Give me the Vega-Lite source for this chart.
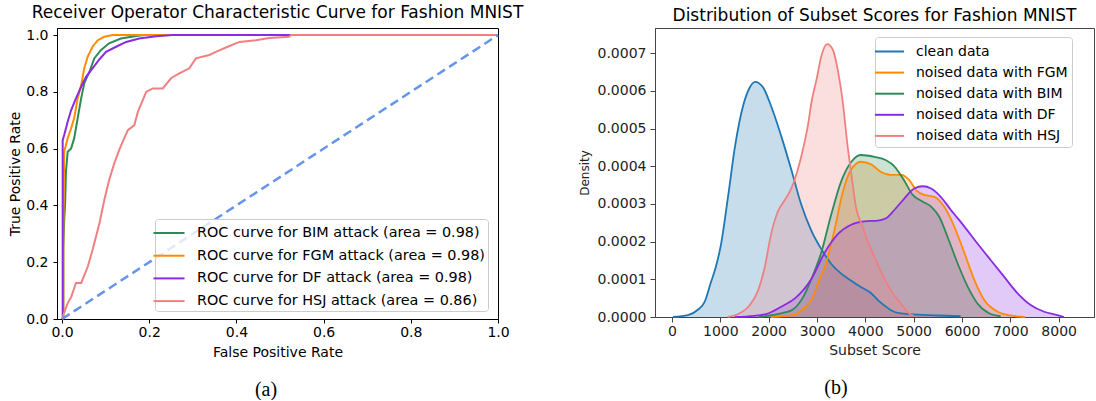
{
  "$schema": "https://vega.github.io/schema/vega-lite/v6.json",
  "background": "white",
  "padding": {"left": 8, "top": 3, "right": 0, "bottom": 0},
  "spacing": 53,
  "resolve": {"scale": {"color": "independent", "x": "independent", "y": "independent"}, "legend": {"color": "independent"}},
  "config": {
    "font": "DejaVu Sans",
    "axis": {"labelFont": "DejaVu Sans", "titleFont": "DejaVu Sans", "labelFontSize": 14, "titleFontSize": 14, "titleFontWeight": "normal", "grid": false, "tickSize": 4, "labelColor": "#000", "titleColor": "#000", "domainColor": "#000", "tickColor": "#000", "labelFlush": false},
    "title": {"font": "DejaVu Sans", "fontWeight": "normal", "color": "#000", "fontSize": 17},
    "legend": {"labelFont": "DejaVu Sans", "labelFontSize": 14, "labelColor": "#000", "labelLimit": 500},
    "view": {"stroke": "#000", "strokeWidth": 1}
  },
  "hconcat": [
    {
      "title": {"text": "(a)", "orient": "bottom", "font": "Liberation Serif", "fontSize": 20, "fontWeight": "normal", "frame": "bounds", "anchor": "middle", "offset": 20},
      "vconcat": [
        {
          "width": 441,
          "height": 291,
          "title": {"text": "Receiver Operator Characteristic Curve for Fashion MNIST", "fontSize": 17, "offset": 6, "anchor": "middle"},
          "layer": [
            {
              "data": {"values": [
                {"fpr": 0, "tpr": 0, "series": "ROC curve for BIM attack (area = 0.98)"},
                {"fpr": 0.003, "tpr": 0, "series": "ROC curve for BIM attack (area = 0.98)"},
                {"fpr": 0.003, "tpr": 0.25, "series": "ROC curve for BIM attack (area = 0.98)"},
                {"fpr": 0.005, "tpr": 0.35, "series": "ROC curve for BIM attack (area = 0.98)"},
                {"fpr": 0.007, "tpr": 0.401, "series": "ROC curve for BIM attack (area = 0.98)"},
                {"fpr": 0.009, "tpr": 0.519, "series": "ROC curve for BIM attack (area = 0.98)"},
                {"fpr": 0.013, "tpr": 0.589, "series": "ROC curve for BIM attack (area = 0.98)"},
                {"fpr": 0.021, "tpr": 0.601, "series": "ROC curve for BIM attack (area = 0.98)"},
                {"fpr": 0.028, "tpr": 0.637, "series": "ROC curve for BIM attack (area = 0.98)"},
                {"fpr": 0.036, "tpr": 0.708, "series": "ROC curve for BIM attack (area = 0.98)"},
                {"fpr": 0.044, "tpr": 0.778, "series": "ROC curve for BIM attack (area = 0.98)"},
                {"fpr": 0.051, "tpr": 0.83, "series": "ROC curve for BIM attack (area = 0.98)"},
                {"fpr": 0.063, "tpr": 0.871, "series": "ROC curve for BIM attack (area = 0.98)"},
                {"fpr": 0.074, "tpr": 0.918, "series": "ROC curve for BIM attack (area = 0.98)"},
                {"fpr": 0.089, "tpr": 0.947, "series": "ROC curve for BIM attack (area = 0.98)"},
                {"fpr": 0.108, "tpr": 0.971, "series": "ROC curve for BIM attack (area = 0.98)"},
                {"fpr": 0.135, "tpr": 0.988, "series": "ROC curve for BIM attack (area = 0.98)"},
                {"fpr": 0.174, "tpr": 0.998, "series": "ROC curve for BIM attack (area = 0.98)"},
                {"fpr": 0.19, "tpr": 1.0, "series": "ROC curve for BIM attack (area = 0.98)"},
                {"fpr": 1.0, "tpr": 1.0, "series": "ROC curve for BIM attack (area = 0.98)"},
                {"fpr": 0, "tpr": 0, "series": "ROC curve for FGM attack (area = 0.98)"},
                {"fpr": 0.003, "tpr": 0, "series": "ROC curve for FGM attack (area = 0.98)"},
                {"fpr": 0.003, "tpr": 0.3, "series": "ROC curve for FGM attack (area = 0.98)"},
                {"fpr": 0.005, "tpr": 0.589, "series": "ROC curve for FGM attack (area = 0.98)"},
                {"fpr": 0.013, "tpr": 0.637, "series": "ROC curve for FGM attack (area = 0.98)"},
                {"fpr": 0.021, "tpr": 0.672, "series": "ROC curve for FGM attack (area = 0.98)"},
                {"fpr": 0.028, "tpr": 0.708, "series": "ROC curve for FGM attack (area = 0.98)"},
                {"fpr": 0.036, "tpr": 0.778, "series": "ROC curve for FGM attack (area = 0.98)"},
                {"fpr": 0.044, "tpr": 0.824, "series": "ROC curve for FGM attack (area = 0.98)"},
                {"fpr": 0.051, "tpr": 0.883, "series": "ROC curve for FGM attack (area = 0.98)"},
                {"fpr": 0.059, "tpr": 0.924, "series": "ROC curve for FGM attack (area = 0.98)"},
                {"fpr": 0.07, "tpr": 0.959, "series": "ROC curve for FGM attack (area = 0.98)"},
                {"fpr": 0.082, "tpr": 0.982, "series": "ROC curve for FGM attack (area = 0.98)"},
                {"fpr": 0.097, "tpr": 0.994, "series": "ROC curve for FGM attack (area = 0.98)"},
                {"fpr": 0.116, "tpr": 1.0, "series": "ROC curve for FGM attack (area = 0.98)"},
                {"fpr": 1.0, "tpr": 1.0, "series": "ROC curve for FGM attack (area = 0.98)"},
                {"fpr": 0, "tpr": 0, "series": "ROC curve for DF attack (area = 0.98)"},
                {"fpr": 0.0015, "tpr": 0, "series": "ROC curve for DF attack (area = 0.98)"},
                {"fpr": 0.0015, "tpr": 0.63, "series": "ROC curve for DF attack (area = 0.98)"},
                {"fpr": 0.005, "tpr": 0.648, "series": "ROC curve for DF attack (area = 0.98)"},
                {"fpr": 0.013, "tpr": 0.695, "series": "ROC curve for DF attack (area = 0.98)"},
                {"fpr": 0.021, "tpr": 0.736, "series": "ROC curve for DF attack (area = 0.98)"},
                {"fpr": 0.032, "tpr": 0.777, "series": "ROC curve for DF attack (area = 0.98)"},
                {"fpr": 0.044, "tpr": 0.818, "series": "ROC curve for DF attack (area = 0.98)"},
                {"fpr": 0.055, "tpr": 0.853, "series": "ROC curve for DF attack (area = 0.98)"},
                {"fpr": 0.07, "tpr": 0.883, "series": "ROC curve for DF attack (area = 0.98)"},
                {"fpr": 0.086, "tpr": 0.915, "series": "ROC curve for DF attack (area = 0.98)"},
                {"fpr": 0.101, "tpr": 0.941, "series": "ROC curve for DF attack (area = 0.98)"},
                {"fpr": 0.124, "tpr": 0.959, "series": "ROC curve for DF attack (area = 0.98)"},
                {"fpr": 0.147, "tpr": 0.976, "series": "ROC curve for DF attack (area = 0.98)"},
                {"fpr": 0.177, "tpr": 0.988, "series": "ROC curve for DF attack (area = 0.98)"},
                {"fpr": 0.216, "tpr": 0.996, "series": "ROC curve for DF attack (area = 0.98)"},
                {"fpr": 0.254, "tpr": 1.0, "series": "ROC curve for DF attack (area = 0.98)"},
                {"fpr": 1.0, "tpr": 1.0, "series": "ROC curve for DF attack (area = 0.98)"},
                {"fpr": 0, "tpr": 0, "series": "ROC curve for HSJ attack (area = 0.86)"},
                {"fpr": 0.0016, "tpr": 0.008, "series": "ROC curve for HSJ attack (area = 0.86)"},
                {"fpr": 0.013, "tpr": 0.056, "series": "ROC curve for HSJ attack (area = 0.86)"},
                {"fpr": 0.021, "tpr": 0.077, "series": "ROC curve for HSJ attack (area = 0.86)"},
                {"fpr": 0.032, "tpr": 0.127, "series": "ROC curve for HSJ attack (area = 0.86)"},
                {"fpr": 0.044, "tpr": 0.127, "series": "ROC curve for HSJ attack (area = 0.86)"},
                {"fpr": 0.059, "tpr": 0.184, "series": "ROC curve for HSJ attack (area = 0.86)"},
                {"fpr": 0.07, "tpr": 0.243, "series": "ROC curve for HSJ attack (area = 0.86)"},
                {"fpr": 0.086, "tpr": 0.338, "series": "ROC curve for HSJ attack (area = 0.86)"},
                {"fpr": 0.097, "tpr": 0.419, "series": "ROC curve for HSJ attack (area = 0.86)"},
                {"fpr": 0.108, "tpr": 0.489, "series": "ROC curve for HSJ attack (area = 0.86)"},
                {"fpr": 0.12, "tpr": 0.549, "series": "ROC curve for HSJ attack (area = 0.86)"},
                {"fpr": 0.131, "tpr": 0.595, "series": "ROC curve for HSJ attack (area = 0.86)"},
                {"fpr": 0.139, "tpr": 0.624, "series": "ROC curve for HSJ attack (area = 0.86)"},
                {"fpr": 0.151, "tpr": 0.665, "series": "ROC curve for HSJ attack (area = 0.86)"},
                {"fpr": 0.166, "tpr": 0.683, "series": "ROC curve for HSJ attack (area = 0.86)"},
                {"fpr": 0.174, "tpr": 0.73, "series": "ROC curve for HSJ attack (area = 0.86)"},
                {"fpr": 0.193, "tpr": 0.8, "series": "ROC curve for HSJ attack (area = 0.86)"},
                {"fpr": 0.208, "tpr": 0.812, "series": "ROC curve for HSJ attack (area = 0.86)"},
                {"fpr": 0.231, "tpr": 0.812, "series": "ROC curve for HSJ attack (area = 0.86)"},
                {"fpr": 0.25, "tpr": 0.848, "series": "ROC curve for HSJ attack (area = 0.86)"},
                {"fpr": 0.269, "tpr": 0.865, "series": "ROC curve for HSJ attack (area = 0.86)"},
                {"fpr": 0.292, "tpr": 0.883, "series": "ROC curve for HSJ attack (area = 0.86)"},
                {"fpr": 0.307, "tpr": 0.918, "series": "ROC curve for HSJ attack (area = 0.86)"},
                {"fpr": 0.338, "tpr": 0.93, "series": "ROC curve for HSJ attack (area = 0.86)"},
                {"fpr": 0.353, "tpr": 0.941, "series": "ROC curve for HSJ attack (area = 0.86)"},
                {"fpr": 0.38, "tpr": 0.959, "series": "ROC curve for HSJ attack (area = 0.86)"},
                {"fpr": 0.407, "tpr": 0.976, "series": "ROC curve for HSJ attack (area = 0.86)"},
                {"fpr": 0.445, "tpr": 0.982, "series": "ROC curve for HSJ attack (area = 0.86)"},
                {"fpr": 0.475, "tpr": 0.99, "series": "ROC curve for HSJ attack (area = 0.86)"},
                {"fpr": 0.521, "tpr": 0.994, "series": "ROC curve for HSJ attack (area = 0.86)"},
                {"fpr": 0.525, "tpr": 1.0, "series": "ROC curve for HSJ attack (area = 0.86)"},
                {"fpr": 1.0, "tpr": 1.0, "series": "ROC curve for HSJ attack (area = 0.86)"}
              ]},
              "mark": {"type": "line", "strokeWidth": 2, "clip": true},
              "encoding": {
                "x": {"field": "fpr", "type": "quantitative", "scale": {"domain": [-0.0115, 1.0], "nice": false, "zero": false}, "axis": {"title": "False Positive Rate", "values": [0, 0.2, 0.4, 0.6, 0.8, 1.0], "format": ".1f", "labelPadding": 2, "titlePadding": 6}},
                "y": {"field": "tpr", "type": "quantitative", "scale": {"domain": [0, 1.025], "nice": false}, "axis": {"title": "True Positive Rate", "values": [0, 0.2, 0.4, 0.6, 0.8, 1.0], "format": ".1f", "labelPadding": 5, "titlePadding": 3}},
                "color": {"field": "series", "type": "nominal", "sort": null,
                  "scale": {"domain": ["ROC curve for BIM attack (area = 0.98)", "ROC curve for FGM attack (area = 0.98)", "ROC curve for DF attack (area = 0.98)", "ROC curve for HSJ attack (area = 0.86)"], "range": ["#2e8b57", "#ff8c00", "#8a2be2", "#f08080"]},
                  "legend": {"title": null, "orient": "none", "legendX": 98, "legendY": 191, "symbolType": "M-1.55,0H1.55", "symbolSize": 400, "symbolStrokeWidth": 2, "labelOffset": 17, "rowPadding": 4.7, "padding": 3, "strokeColor": "#cccccc", "fillColor": "rgba(255,255,255,0.8)", "cornerRadius": 3, "labelFontSize": 14.4}}
              }
            },
            {
              "data": {"values": [{"fpr": 0, "tpr": 0}, {"fpr": 1, "tpr": 1}]},
              "mark": {"type": "line", "color": "#6495ed", "strokeWidth": 2.5, "strokeDash": [9, 5]},
              "encoding": {
                "x": {"field": "fpr", "type": "quantitative"},
                "y": {"field": "tpr", "type": "quantitative"}
              }
            }
          ]
        }
      ]
    },
    {
      "title": {"text": "(b)", "orient": "bottom", "font": "Liberation Serif", "fontSize": 20, "fontWeight": "normal", "frame": "bounds", "anchor": "middle", "offset": 20},
      "vconcat": [
        {
          "width": 439,
          "height": 289,
          "view": {"stroke": "#444"},
          "title": {"text": "Distribution of Subset Scores for Fashion MNIST", "fontSize": 17, "offset": 3, "anchor": "middle"},
          "data": {"values": [
            {"score": 20, "density": 0, "series": "clean data"},
            {"score": 330, "density": 0.000005, "series": "clean data"},
            {"score": 540, "density": 0.00002, "series": "clean data"},
            {"score": 675, "density": 0.00004, "series": "clean data"},
            {"score": 800, "density": 0.00009, "series": "clean data"},
            {"score": 900, "density": 0.00013, "series": "clean data"},
            {"score": 1010, "density": 0.00019, "series": "clean data"},
            {"score": 1160, "density": 0.00032, "series": "clean data"},
            {"score": 1300, "density": 0.00045, "series": "clean data"},
            {"score": 1470, "density": 0.00056, "series": "clean data"},
            {"score": 1600, "density": 0.000607, "series": "clean data"},
            {"score": 1720, "density": 0.000624, "series": "clean data"},
            {"score": 1880, "density": 0.00061, "series": "clean data"},
            {"score": 2050, "density": 0.00056, "series": "clean data"},
            {"score": 2260, "density": 0.00048, "series": "clean data"},
            {"score": 2470, "density": 0.00039, "series": "clean data"},
            {"score": 2670, "density": 0.0003, "series": "clean data"},
            {"score": 2880, "density": 0.00023, "series": "clean data"},
            {"score": 3090, "density": 0.00018, "series": "clean data"},
            {"score": 3300, "density": 0.00014, "series": "clean data"},
            {"score": 3500, "density": 0.000115, "series": "clean data"},
            {"score": 3700, "density": 0.000097, "series": "clean data"},
            {"score": 3900, "density": 0.00008, "series": "clean data"},
            {"score": 4120, "density": 0.000063, "series": "clean data"},
            {"score": 4260, "density": 0.000045, "series": "clean data"},
            {"score": 4400, "density": 0.00003, "series": "clean data"},
            {"score": 4530, "density": 0.000018, "series": "clean data"},
            {"score": 4700, "density": 0.00001, "series": "clean data"},
            {"score": 5000, "density": 0.000007, "series": "clean data"},
            {"score": 5500, "density": 0.000004, "series": "clean data"},
            {"score": 5970, "density": 0.000002, "series": "clean data"},
            {"score": 2050, "density": 0, "series": "noised data with FGM"},
            {"score": 2500, "density": 0.000005, "series": "noised data with FGM"},
            {"score": 2700, "density": 0.00002, "series": "noised data with FGM"},
            {"score": 2900, "density": 0.00005, "series": "noised data with FGM"},
            {"score": 3050, "density": 0.0001, "series": "noised data with FGM"},
            {"score": 3155, "density": 0.00013, "series": "noised data with FGM"},
            {"score": 3360, "density": 0.00023, "series": "noised data with FGM"},
            {"score": 3530, "density": 0.00033, "series": "noised data with FGM"},
            {"score": 3700, "density": 0.00039, "series": "noised data with FGM"},
            {"score": 3910, "density": 0.000412, "series": "noised data with FGM"},
            {"score": 4120, "density": 0.000405, "series": "noised data with FGM"},
            {"score": 4325, "density": 0.000385, "series": "noised data with FGM"},
            {"score": 4530, "density": 0.000377, "series": "noised data with FGM"},
            {"score": 4740, "density": 0.000377, "series": "noised data with FGM"},
            {"score": 4910, "density": 0.000363, "series": "noised data with FGM"},
            {"score": 5050, "density": 0.000337, "series": "noised data with FGM"},
            {"score": 5220, "density": 0.000324, "series": "noised data with FGM"},
            {"score": 5430, "density": 0.000319, "series": "noised data with FGM"},
            {"score": 5630, "density": 0.000293, "series": "noised data with FGM"},
            {"score": 5840, "density": 0.00024, "series": "noised data with FGM"},
            {"score": 6050, "density": 0.00017, "series": "noised data with FGM"},
            {"score": 6250, "density": 0.0001, "series": "noised data with FGM"},
            {"score": 6460, "density": 0.000045, "series": "noised data with FGM"},
            {"score": 6740, "density": 0.000014, "series": "noised data with FGM"},
            {"score": 7000, "density": 0.000004, "series": "noised data with FGM"},
            {"score": 7300, "density": 0, "series": "noised data with FGM"},
            {"score": 1800, "density": 0, "series": "noised data with BIM"},
            {"score": 2200, "density": 0.000008, "series": "noised data with BIM"},
            {"score": 2500, "density": 0.00002, "series": "noised data with BIM"},
            {"score": 2700, "density": 0.00005, "series": "noised data with BIM"},
            {"score": 2880, "density": 0.0001, "series": "noised data with BIM"},
            {"score": 3085, "density": 0.00017, "series": "noised data with BIM"},
            {"score": 3290, "density": 0.00027, "series": "noised data with BIM"},
            {"score": 3500, "density": 0.00036, "series": "noised data with BIM"},
            {"score": 3700, "density": 0.00041, "series": "noised data with BIM"},
            {"score": 3900, "density": 0.00043, "series": "noised data with BIM"},
            {"score": 4190, "density": 0.000425, "series": "noised data with BIM"},
            {"score": 4430, "density": 0.000416, "series": "noised data with BIM"},
            {"score": 4600, "density": 0.0004, "series": "noised data with BIM"},
            {"score": 4800, "density": 0.000363, "series": "noised data with BIM"},
            {"score": 4980, "density": 0.000324, "series": "noised data with BIM"},
            {"score": 5190, "density": 0.000306, "series": "noised data with BIM"},
            {"score": 5360, "density": 0.000293, "series": "noised data with BIM"},
            {"score": 5530, "density": 0.000266, "series": "noised data with BIM"},
            {"score": 5700, "density": 0.000213, "series": "noised data with BIM"},
            {"score": 5910, "density": 0.000142, "series": "noised data with BIM"},
            {"score": 6120, "density": 0.00008, "series": "noised data with BIM"},
            {"score": 6320, "density": 0.000036, "series": "noised data with BIM"},
            {"score": 6560, "density": 0.00001, "series": "noised data with BIM"},
            {"score": 6800, "density": 0.000002, "series": "noised data with BIM"},
            {"score": 1300, "density": 0, "series": "noised data with DF"},
            {"score": 1700, "density": 0.000003, "series": "noised data with DF"},
            {"score": 2000, "density": 0.00001, "series": "noised data with DF"},
            {"score": 2300, "density": 0.00003, "series": "noised data with DF"},
            {"score": 2550, "density": 0.00005, "series": "noised data with DF"},
            {"score": 2880, "density": 0.0001, "series": "noised data with DF"},
            {"score": 3155, "density": 0.00017, "series": "noised data with DF"},
            {"score": 3430, "density": 0.00022, "series": "noised data with DF"},
            {"score": 3705, "density": 0.000245, "series": "noised data with DF"},
            {"score": 3980, "density": 0.000254, "series": "noised data with DF"},
            {"score": 4260, "density": 0.000256, "series": "noised data with DF"},
            {"score": 4430, "density": 0.000262, "series": "noised data with DF"},
            {"score": 4600, "density": 0.000284, "series": "noised data with DF"},
            {"score": 4810, "density": 0.000315, "series": "noised data with DF"},
            {"score": 5010, "density": 0.000341, "series": "noised data with DF"},
            {"score": 5190, "density": 0.000347, "series": "noised data with DF"},
            {"score": 5360, "density": 0.000341, "series": "noised data with DF"},
            {"score": 5560, "density": 0.000319, "series": "noised data with DF"},
            {"score": 5770, "density": 0.000284, "series": "noised data with DF"},
            {"score": 6050, "density": 0.00024, "series": "noised data with DF"},
            {"score": 6320, "density": 0.000195, "series": "noised data with DF"},
            {"score": 6600, "density": 0.00015, "series": "noised data with DF"},
            {"score": 6870, "density": 0.000107, "series": "noised data with DF"},
            {"score": 7150, "density": 0.000063, "series": "noised data with DF"},
            {"score": 7420, "density": 0.000032, "series": "noised data with DF"},
            {"score": 7700, "density": 0.000014, "series": "noised data with DF"},
            {"score": 7975, "density": 0.000005, "series": "noised data with DF"},
            {"score": 8110, "density": 0, "series": "noised data with DF"},
            {"score": 1150, "density": 0, "series": "noised data with HSJ"},
            {"score": 1400, "density": 0.00001, "series": "noised data with HSJ"},
            {"score": 1600, "density": 0.00003, "series": "noised data with HSJ"},
            {"score": 1780, "density": 0.00007, "series": "noised data with HSJ"},
            {"score": 1915, "density": 0.00013, "series": "noised data with HSJ"},
            {"score": 2050, "density": 0.00022, "series": "noised data with HSJ"},
            {"score": 2190, "density": 0.00028, "series": "noised data with HSJ"},
            {"score": 2330, "density": 0.00031, "series": "noised data with HSJ"},
            {"score": 2465, "density": 0.00034, "series": "noised data with HSJ"},
            {"score": 2600, "density": 0.00039, "series": "noised data with HSJ"},
            {"score": 2700, "density": 0.00044, "series": "noised data with HSJ"},
            {"score": 2800, "density": 0.0005, "series": "noised data with HSJ"},
            {"score": 2900, "density": 0.00058, "series": "noised data with HSJ"},
            {"score": 2990, "density": 0.00063, "series": "noised data with HSJ"},
            {"score": 3085, "density": 0.00069, "series": "noised data with HSJ"},
            {"score": 3209, "density": 0.000724, "series": "noised data with HSJ"},
            {"score": 3326, "density": 0.00071, "series": "noised data with HSJ"},
            {"score": 3430, "density": 0.000655, "series": "noised data with HSJ"},
            {"score": 3533, "density": 0.00057, "series": "noised data with HSJ"},
            {"score": 3636, "density": 0.00045, "series": "noised data with HSJ"},
            {"score": 3710, "density": 0.00038, "series": "noised data with HSJ"},
            {"score": 3808, "density": 0.00029, "series": "noised data with HSJ"},
            {"score": 3946, "density": 0.00024, "series": "noised data with HSJ"},
            {"score": 4050, "density": 0.0002, "series": "noised data with HSJ"},
            {"score": 4118, "density": 0.00018, "series": "noised data with HSJ"},
            {"score": 4325, "density": 0.00012, "series": "noised data with HSJ"},
            {"score": 4531, "density": 0.00007, "series": "noised data with HSJ"},
            {"score": 4738, "density": 0.000035, "series": "noised data with HSJ"},
            {"score": 4900, "density": 0.00001, "series": "noised data with HSJ"},
            {"score": 5000, "density": 0.000003, "series": "noised data with HSJ"}
          ]},
          "encoding": {
            "x": {"field": "score", "type": "quantitative", "scale": {"domain": [-352, 8731], "nice": false, "zero": false}, "axis": {"title": "Subset Score", "values": [0, 1000, 2000, 3000, 4000, 5000, 6000, 7000, 8000], "format": "d", "labelPadding": 2, "titlePadding": 5, "tickSize": 5, "domainColor": "#444", "tickColor": "#444", "labelColor": "#222", "titleColor": "#222"}},
            "y": {"field": "density", "type": "quantitative", "stack": null, "scale": {"domain": [0, 0.000767], "nice": false}, "axis": {"title": "Density", "titleFontSize": 12, "values": [0, 0.0001, 0.0002, 0.0003, 0.0004, 0.0005, 0.0006, 0.0007], "format": ".4f", "labelPadding": 4, "titlePadding": 6, "tickSize": 5, "domainColor": "#444", "tickColor": "#444", "labelColor": "#222", "titleColor": "#222"}},
            "color": {"field": "series", "type": "nominal", "sort": null,
              "scale": {"domain": ["clean data", "noised data with FGM", "noised data with BIM", "noised data with DF", "noised data with HSJ"], "range": ["#1f77b4", "#ff8c00", "#2e8b57", "#8a2be2", "#f08080"]},
              "legend": {"title": null, "orient": "none", "legendX": 220, "legendY": 9, "symbolType": "M-1.53,0H1.53", "symbolSize": 361, "symbolStrokeWidth": 2, "symbolOpacity": 1, "labelOffset": 16, "rowPadding": 3.1, "padding": 4, "strokeColor": "#cccccc", "fillColor": "rgba(255,255,255,0.8)", "cornerRadius": 3, "labelFontSize": 14}}
          },
          "layer": [
            {"mark": {"type": "area", "fillOpacity": 0.25, "interpolate": "monotone"}},
            {"mark": {"type": "line", "strokeWidth": 1.8, "interpolate": "monotone"}}
          ]
        }
      ]
    }
  ]
}
